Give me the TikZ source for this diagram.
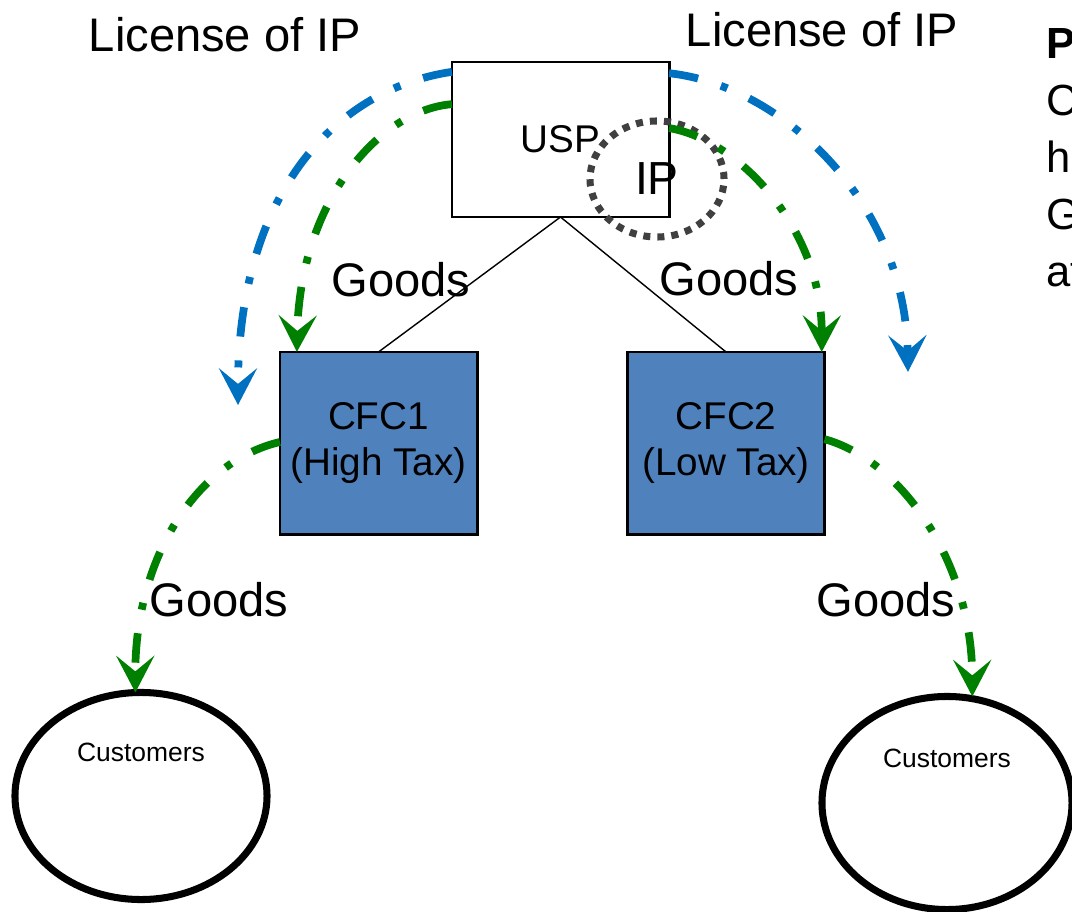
\documentclass[tikz,border=0pt]{standalone}
\usepackage{fontspec}
\setmainfont{Liberation Sans}
\usetikzlibrary{arrows.meta,shapes.geometric}
\definecolor{licblue}{HTML}{0070C0}
\definecolor{goodsgreen}{HTML}{008000}
\definecolor{cfcfill}{HTML}{4F81BD}
\definecolor{ipgray}{HTML}{404040}
\begin{document}
\begin{tikzpicture}[
    x=0.025cm, y=-0.025cm,
    every node/.style={inner sep=0pt, outer sep=0pt},
    bigtext/.style={font=\fontsize{33.5}{40}\selectfont},
    sidetext/.style={font=\fontsize{31}{37}\selectfont, anchor=base west},
    entity/.style={draw, line width=2.1pt, font=\fontsize{27.5}{33}\selectfont, align=center},
    parent/.style={entity, fill=white, minimum width=5.425cm, minimum height=3.875cm},
    cfc/.style={entity, fill=cfcfill, minimum width=4.925cm, minimum height=4.55cm},
    market/.style={draw, ellipse, line width=5pt},
    iparea/.style={draw=ipgray, ellipse, line width=5pt, dash pattern=on 5pt off 5pt,
      minimum width=3.35cm, minimum height=2.9cm, font=\fontsize{33}{40}\selectfont},
    flow/.style={line width=5.5pt, dash pattern=on 21pt off 17pt on 5pt off 17pt,
      -{Stealth[length=26pt, width=27pt, inset=11pt]}},
    license/.style={flow, color=licblue},
    goods/.style={flow, color=goodsgreen},
  ]
    \useasboundingbox (0,0) rectangle (1072,912);

    % entities
    \node[parent] (usp) at (560.5,139.5) {USP};
    \node[cfc] (cfc1) at (378.5,443) {CFC1\\(High Tax)};
    \node[cfc] (cfc2) at (726,443) {CFC2\\(Low Tax)};
    \node[iparea] (ip) at (657,179) {IP};

    % customers
    \node[market, minimum width=6.3cm, minimum height=5.175cm] (custL) at (141,796) {};
    \node[market, minimum width=6.25cm, minimum height=5.325cm] (custR) at (947,803) {};
    \node[font=\fontsize{18.8}{22}\selectfont] (custLtext) at (141,752) {Customers};
    \node[font=\fontsize{18.8}{22}\selectfont] (custRtext) at (947,758) {Customers};

    % ownership lines
    \draw[line width=1pt] (usp.south) -- (cfc1.north);
    \draw[line width=1pt] (usp.south) -- (cfc2.north);

    % free ends of the licence arrows
    \coordinate (licL) at (238,405);
    \coordinate (licR) at (908,372);

    % licence of IP
    \draw[license] ([yshift=-7pt]usp.north west) .. controls (330,90) and (238,200) .. (licL);
    \draw[license] ([yshift=-8pt]usp.north east) .. controls (780,85) and (905,200) .. (licR);

    % goods
    \draw[goods] ([yshift=-30pt]usp.north west) .. controls (380,110) and (300,200) .. ([xshift=12pt]cfc1.north west);
    \draw[goods] ([yshift=-47pt]usp.north east) .. controls (740,140) and (822,230) .. ([xshift=-2pt]cfc2.north east);
    \draw[goods] ([yshift=-64pt]cfc1.north west) .. controls (195,462) and (135,560) .. ([xshift=-4pt]custL.north);
    \draw[goods] ([yshift=-62pt]cfc2.north east) .. controls (900,460) and (972,560) .. ([xshift=18pt]custR.north);

    % labels
    \node[bigtext] (licLtext) at (225,35) {License of IP};
    \node[bigtext] (licRtext) at (822,30) {License of IP};
    \node[bigtext] (goods1) at (401,280) {Goods};
    \node[bigtext] (goods2) at (729,279) {Goods};
    \node[bigtext] (goods3) at (219,600) {Goods};
    \node[bigtext] (goods4) at (886,600) {Goods};

    % text running off the right edge
    \node[sidetext] (side1) at (1046,59) {\textbf{P}};
    \node[sidetext] (side2) at (1046,116) {C};
    \node[sidetext] (side3) at (1046,173) {h};
    \node[sidetext] (side4) at (1046,230) {G};
    \node[sidetext] (side5) at (1046,287) {at};
  \end{tikzpicture}
\end{document}
